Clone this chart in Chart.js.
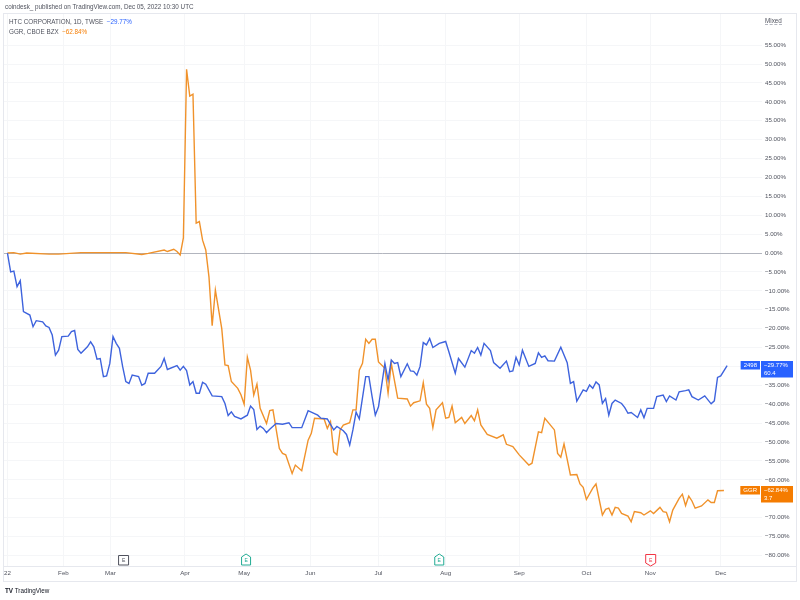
<!DOCTYPE html>
<html>
<head>
<meta charset="utf-8">
<script src="https://cdn.jsdelivr.net/npm/chart.js@4"></script>
<style>
  body { margin: 0; background: #fff; }
  #wrap { position: relative; width: 800px; height: 600px; font-family: 'Liberation Sans', Arial, sans-serif; }
  canvas { position: absolute; left: 0; top: 0; }
  .txt { position: absolute; white-space: nowrap; font-size: 6.3px; line-height: 7px; color: #50535e; }
</style>
</head>
<body>
<div id="wrap">
  <canvas id="chart" width="800" height="600"></canvas>
  <div class="txt" style="left:5px;top:3px">coindesk_ published on TradingView.com, Dec 05, 2022 10:30 UTC</div>
  <div class="txt" style="left:9px;top:18px">HTC CORPORATION, 1D, TWSE&nbsp; <span style="color:#2962ff">−29.77%</span></div>
  <div class="txt" style="left:9px;top:28px">GGR, CBOE BZX&nbsp; <span style="color:#f57c00">−62.84%</span></div>
  <div class="txt" style="left:765px;top:17px;border-bottom:1px dashed #b2b5be">Mixed</div>
  <div class="txt" style="left:5px;top:587px;color:#131722"><b>TV</b> TradingView</div>
</div>
<script>
// x axis is in trading sessions since the start of 2022
const monthTicks = [0, 17.5, 32.2, 55.5, 74, 94.7, 116, 137, 160, 181, 201, 223];
const monthLabels = ['22', 'Feb', 'Mar', 'Apr', 'May', 'Jun', 'Jul', 'Aug', 'Sep', 'Oct', 'Nov', 'Dec'];
const yTicks = [55, 50, 45, 40, 35, 30, 25, 20, 15, 10, 5, 0, -5, -10, -15, -20, -25, -30, -35, -40, -45, -50, -55, -60, -65, -70, -75, -80];

// HTC CORPORATION (TWSE) % change
const htcSession = [
    0, 1, 2, 3, 4, 5, 7, 8, 9, 11, 12, 13, 14, 15, 16, 17, 19, 20, 21, 22,
    23, 25, 26, 27, 28, 29, 30, 31, 32, 33, 34, 35, 36, 37, 38, 39, 41, 42, 43, 44,
    46, 48, 49, 50, 53, 54, 55, 56, 57, 58, 59, 60, 61, 62, 64, 67, 68, 69, 70, 71,
    73, 75, 76, 77, 78, 79, 80, 81, 82, 84, 86, 88, 89, 92, 94, 97, 98, 100, 102, 103,
    105, 106, 107, 108, 109, 110, 112, 113, 114, 115, 116, 118, 119, 120, 121, 122, 123, 125, 126, 127,
    128, 129, 130, 131, 132, 133, 135, 137, 138, 140, 141, 143, 145, 146, 147, 148, 149, 151, 152, 154,
    156, 157, 158, 159, 160, 161, 163, 165, 166, 167, 168, 169, 171, 173, 175, 176, 177, 178, 180, 181,
    182, 183, 184, 185, 186, 187, 188, 189, 190, 192, 193, 194, 195, 197, 198, 199, 200, 202, 203, 205,
    206, 207, 209, 210, 212, 213, 214, 216, 218, 220, 221, 222, 223, 225
];
const htcPct = [
    0, -5, -4.8, -8.9, -7.3, -15.5, -16.4, -19.5, -17.9, -18.2, -19.3, -19.7, -21.7, -27, -25.7, -22.1, -22, -20.8, -20.5, -25.5,
    -26.5, -24.8, -23.5, -24.8, -28.1, -27.9, -32.7, -32.5, -29.2, -22.1, -23.9, -25.2, -30, -34, -34.5, -32.3, -32.7, -35, -34.5, -31.8,
    -31.8, -30, -27.9, -30.8, -29.8, -31, -30, -31.1, -34.9, -34, -37.1, -37.1, -34.2, -34.7, -37.8, -38, -39.8, -43, -42, -43.2,
    -43.9, -42.9, -40.5, -41.4, -46.7, -45.8, -46.4, -47.5, -46.6, -45.1, -45.3, -44.9, -46.2, -46.2, -41.7, -42.9, -43.7, -43.9, -46.8, -45.9,
    -47, -48, -50.8, -46.8, -42.1, -43.9, -32.7, -32.7, -38, -42.9, -40.7, -29.2, -33.6, -28.3, -29.2, -29, -32.7, -29.3, -31.2, -31.3,
    -32.3, -30, -23.7, -24.3, -22.6, -25, -23.9, -23.4, -26.1, -31.8, -27.9, -30.2, -25.8, -26.5, -25, -27, -23.9, -25.8, -29, -30.5,
    -28.6, -31.4, -31.2, -27.6, -29.6, -25.7, -30, -29.2, -26.4, -27.6, -27.2, -28.5, -28.6, -24.9, -29, -34.5, -34, -39.2, -36.2, -36.6,
    -34.9, -35.8, -34.1, -34.9, -39.8, -38.5, -42.9, -39.8, -38.9, -39.8, -40.9, -42.4, -42.2, -43.5, -41.5, -43.6, -41.1, -41.1, -38, -37.6,
    -39.3, -37.8, -38.9, -36.7, -36.4, -36.2, -38, -38.9, -37.8, -39.9, -39.1, -32.9, -32.5, -29.77
];

// GGR (CBOE BZX) % change
const ggrSession = [
    0, 2, 4, 6, 13, 16, 23, 37, 42, 44, 49, 50, 52, 53, 54, 55, 56, 57, 58, 59,
    60, 61, 62, 63, 64, 65, 67, 68, 69, 70, 72, 73, 74, 75, 76, 77, 78, 79, 81, 82,
    83, 85, 86, 87, 89, 90, 92, 94, 95, 96, 99, 100, 101, 102, 103, 104, 105, 107, 108, 109,
    110, 111, 112, 113, 114, 115, 116, 118, 119, 120, 122, 125, 126, 127, 129, 130, 131, 132, 133, 134,
    136, 137, 138, 139, 140, 142, 143, 145, 146, 147, 148, 150, 153, 155, 156, 158, 160, 163, 164, 166,
    167, 168, 171, 172, 173, 174, 176, 178, 179, 180, 181, 183, 184, 186, 187, 188, 189, 190, 191, 192,
    194, 195, 196, 198, 199, 201, 202, 204, 205, 206, 207, 208, 210, 211, 212, 213, 214, 215, 217, 219,
    220, 221, 222, 224
];
const ggrPct = [
    0, 0.1, -0.3, 0, -0.3, -0.3, 0.1, 0.1, -0.4, -0.1, 0.8, 0.4, 1, 0.4, -0.5, 4, 48.6, 41.5, 42, 7.9,
    8.3, 3.4, 0.8, -6.3, -19.2, -9.8, -20, -29.6, -29.8, -34, -35.8, -37.5, -40, -27.6, -31, -37.6, -34.7, -41.1, -45.1, -41.7,
    -41.5, -51.7, -53, -53.4, -58.3, -56.1, -57.6, -49.5, -47.7, -43.7, -43.9, -46.4, -44.6, -52.6, -53.4, -46.8, -45.5, -44.9, -41.5, -41.5,
    -31, -29.2, -22.8, -23.9, -22.8, -22.8, -28.8, -30.5, -37.1, -29.2, -38.4, -38.6, -40.5, -39.6, -39.1, -34.3, -40, -41.1, -46.2, -41.5,
    -39.6, -43.7, -43.5, -40.5, -44.9, -43.5, -45.1, -43, -44.4, -41.5, -45.5, -48, -49, -48.1, -50.6, -51.2, -53.4, -56.1, -55.6, -47.3,
    -47.5, -43.7, -46.8, -53, -54, -50.5, -58.7, -58.6, -61.1, -62, -65.2, -62.2, -61.1, -69.3, -67.8, -67.5, -69.3, -67.3, -67.5, -68.9,
    -69.6, -71.1, -68.4, -68.7, -69.3, -68.2, -68.9, -67.3, -68.4, -68.6, -71.1, -68, -64.9, -63.8, -66.8, -64.3, -65.6, -67.5, -66.9, -65.3,
    -66, -66, -62.9, -62.84
];

// earnings flags along the time axis
const earningsAt = [36.3, 74.6, 135, 201.1];
const earningsKind = ['plain', 'up', 'up', 'down'];

const toPoints = (xs, ys) => xs.map((x, i) => ({ x: x, y: ys[i] }));
const fmtPct = v => (v < 0 ? '−' : '') + Math.abs(v).toFixed(2) + '%';

function drawBadge(ctx, area, yPix, color, name, lines) {
    ctx.font = '6px "Liberation Sans", Arial, sans-serif';
    const top = Math.round(yPix - 4.5);
    const nameW = ctx.measureText(name).width + 6;
    ctx.fillStyle = color;
    ctx.fillRect(area.right - 2 - nameW, top, nameW, 8.5);
    ctx.fillRect(area.right - 1, top, 32, lines.length * 8 + 0.5);
    ctx.fillStyle = '#fff';
    ctx.textBaseline = 'middle';
    ctx.textAlign = 'center';
    ctx.fillText(name, area.right - 2 - nameW / 2, top + 4.5);
    ctx.textAlign = 'left';
    lines.forEach((t, i) => ctx.fillText(t, area.right + 2, top + 4.5 + i * 8));
}

function drawFlag(ctx, cx, kind) {
    const colors = { plain: '#50535e', up: '#22ab94', down: '#f23645' };
    ctx.beginPath();
    if (kind === 'up') {
        ctx.moveTo(cx - 4.5, 565); ctx.lineTo(cx - 4.5, 557); ctx.lineTo(cx, 554);
        ctx.lineTo(cx + 4.5, 557); ctx.lineTo(cx + 4.5, 565);
    } else if (kind === 'down') {
        ctx.moveTo(cx - 5, 554.5); ctx.lineTo(cx + 5, 554.5); ctx.lineTo(cx + 5, 563);
        ctx.lineTo(cx, 566); ctx.lineTo(cx - 5, 563);
    } else {
        ctx.rect(cx - 5, 555.5, 10, 9.5);
    }
    ctx.closePath();
    ctx.fillStyle = '#fff';
    ctx.fill();
    ctx.strokeStyle = colors[kind];
    ctx.lineWidth = 1;
    ctx.stroke();
    ctx.fillStyle = colors[kind];
    ctx.font = '5px "Liberation Sans", Arial, sans-serif';
    ctx.textAlign = 'center';
    ctx.textBaseline = 'middle';
    ctx.fillText('E', cx, 560.5);
}

const extras = {
    id: 'extras',
    beforeDatasetsDraw(chart) {
        const { ctx, chartArea: a, scales: { y } } = chart;
        const y0 = Math.round(y.getPixelForValue(0)) + 0.5;
        ctx.save();
        ctx.strokeStyle = '#b2b5be';
        ctx.lineWidth = 1;
        ctx.beginPath();
        ctx.moveTo(a.left, y0);
        ctx.lineTo(a.right, y0);
        ctx.stroke();
        ctx.restore();
    },
    afterDraw(chart) {
        const { ctx, chartArea: a, scales: { x, y } } = chart;
        ctx.save();
        // frame
        ctx.strokeStyle = '#e6e8ee';
        ctx.lineWidth = 1;
        ctx.strokeRect(3.5, 13.5, 793, 568);
        ctx.beginPath();
        ctx.moveTo(3.5, a.bottom + 0.5);
        ctx.lineTo(796.5, a.bottom + 0.5);
        ctx.stroke();

        earningsAt.forEach((s, i) => drawFlag(ctx, x.getPixelForValue(s), earningsKind[i]));

        const lastHtc = htcPct[htcPct.length - 1];
        const lastGgr = ggrPct[ggrPct.length - 1];
        drawBadge(ctx, a, y.getPixelForValue(lastHtc), '#2962ff', '2498', [fmtPct(lastHtc), '60.4']);
        drawBadge(ctx, a, y.getPixelForValue(lastGgr), '#f57c00', 'GGR', [fmtPct(lastGgr), '3.7']);
        ctx.restore();
    }
};

new Chart(document.getElementById('chart'), {
    type: 'line',
    data: {
        datasets: [{
            label: 'HTC CORPORATION',
            data: toPoints(htcSession, htcPct),
            borderColor: '#3e63dd',
            borderWidth: 1.4,
            pointRadius: 0,
            tension: 0
        }, {
            label: 'GGR',
            data: toPoints(ggrSession, ggrPct),
            borderColor: '#f0922b',
            borderWidth: 1.4,
            pointRadius: 0,
            tension: 0
        }]
    },
    options: {
        responsive: false,
        animation: false,
        devicePixelRatio: 1,
        layout: { padding: { left: 3, top: 13, right: 4, bottom: 19 } },
        plugins: { legend: { display: false }, tooltip: { enabled: false } },
        scales: {
            x: {
                type: 'linear',
                min: -1.25,
                max: 235.9,
                afterBuildTicks: s => { s.ticks = monthTicks.map(v => ({ value: v })); },
                afterFit: s => { s.height = 15; },
                grid: { color: '#f5f6f8', drawTicks: false },
                border: { display: false },
                ticks: {
                    padding: 4, color: '#50535e', maxRotation: 0, autoSkip: false,
                    font: { family: '"Liberation Sans", Arial, sans-serif', size: 6.2 },
                    callback: (v, i) => monthLabels[i]
                }
            },
            y: {
                type: 'linear',
                position: 'right',
                min: -82.8,
                max: 63.5,
                afterBuildTicks: s => { s.ticks = yTicks.map(v => ({ value: v })); },
                afterFit: s => { s.width = 34; },
                grid: { color: '#f5f6f8', drawTicks: false },
                border: { display: false },
                ticks: {
                    padding: 3, color: '#50535e',
                    font: { family: '"Liberation Sans", Arial, sans-serif', size: 6.2 },
                    callback: v => fmtPct(v)
                }
            }
        }
    },
    plugins: [extras]
});
</script>
</body>
</html>
